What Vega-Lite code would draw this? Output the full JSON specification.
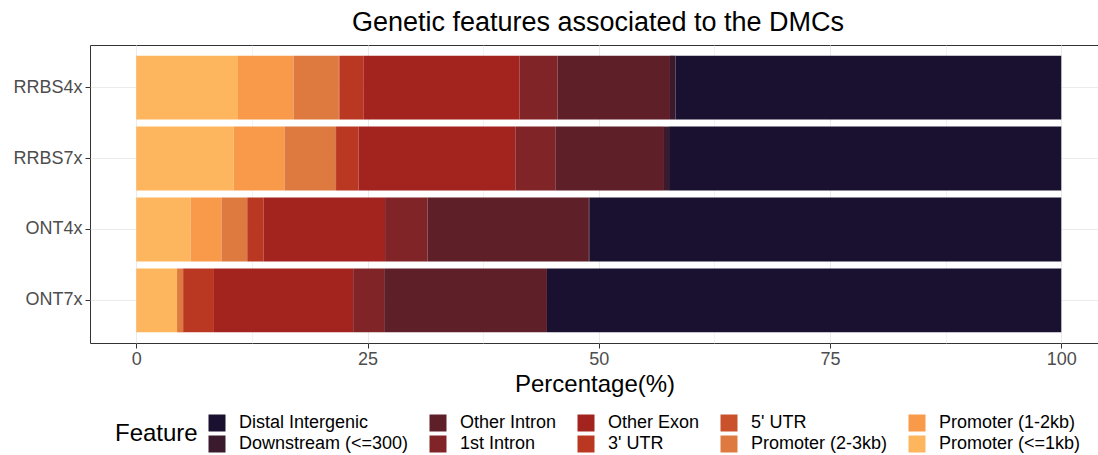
{
  "$schema": "https://vega.github.io/schema/vega-lite/v6.json",
  "width": 1009,
  "height": 298,
  "autosize": {"type": "none"},
  "padding": {"left": 90, "top": 45, "right": 0, "bottom": 112},
  "background": "white",
  "title": {
    "text": "Genetic features associated to the DMCs",
    "fontSize": 27,
    "font": "Liberation Sans",
    "fontWeight": "normal",
    "color": "black",
    "anchor": "middle",
    "dx": 3.5,
    "offset": 8
  },
  "config": {
    "font": "Liberation Sans",
    "view": {"stroke": "#333333", "strokeWidth": 1}
  },
  "data": {
    "values": [
      {"Sample": "RRBS4x", "Feature": "Promoter (<=1kb)", "Percentage": 11.0, "rank": 1},
      {"Sample": "RRBS4x", "Feature": "Promoter (1-2kb)", "Percentage": 6.0, "rank": 2},
      {"Sample": "RRBS4x", "Feature": "Promoter (2-3kb)", "Percentage": 4.9, "rank": 3},
      {"Sample": "RRBS4x", "Feature": "5' UTR", "Percentage": 0.1, "rank": 4},
      {"Sample": "RRBS4x", "Feature": "3' UTR", "Percentage": 2.6, "rank": 5},
      {"Sample": "RRBS4x", "Feature": "Other Exon", "Percentage": 16.85, "rank": 6},
      {"Sample": "RRBS4x", "Feature": "1st Intron", "Percentage": 4.1, "rank": 7},
      {"Sample": "RRBS4x", "Feature": "Other Intron", "Percentage": 12.15, "rank": 8},
      {"Sample": "RRBS4x", "Feature": "Downstream (<=300)", "Percentage": 0.6, "rank": 9},
      {"Sample": "RRBS4x", "Feature": "Distal Intergenic", "Percentage": 41.7, "rank": 10},
      {"Sample": "RRBS7x", "Feature": "Promoter (<=1kb)", "Percentage": 10.53, "rank": 1},
      {"Sample": "RRBS7x", "Feature": "Promoter (1-2kb)", "Percentage": 5.49, "rank": 2},
      {"Sample": "RRBS7x", "Feature": "Promoter (2-3kb)", "Percentage": 5.5, "rank": 3},
      {"Sample": "RRBS7x", "Feature": "5' UTR", "Percentage": 0.08, "rank": 4},
      {"Sample": "RRBS7x", "Feature": "3' UTR", "Percentage": 2.43, "rank": 5},
      {"Sample": "RRBS7x", "Feature": "Other Exon", "Percentage": 16.95, "rank": 6},
      {"Sample": "RRBS7x", "Feature": "1st Intron", "Percentage": 4.32, "rank": 7},
      {"Sample": "RRBS7x", "Feature": "Other Intron", "Percentage": 11.75, "rank": 8},
      {"Sample": "RRBS7x", "Feature": "Downstream (<=300)", "Percentage": 0.55, "rank": 9},
      {"Sample": "RRBS7x", "Feature": "Distal Intergenic", "Percentage": 42.4, "rank": 10},
      {"Sample": "ONT4x", "Feature": "Promoter (<=1kb)", "Percentage": 5.88, "rank": 1},
      {"Sample": "ONT4x", "Feature": "Promoter (1-2kb)", "Percentage": 3.33, "rank": 2},
      {"Sample": "ONT4x", "Feature": "Promoter (2-3kb)", "Percentage": 2.79, "rank": 3},
      {"Sample": "ONT4x", "Feature": "3' UTR", "Percentage": 1.78, "rank": 5},
      {"Sample": "ONT4x", "Feature": "Other Exon", "Percentage": 13.12, "rank": 6},
      {"Sample": "ONT4x", "Feature": "1st Intron", "Percentage": 4.6, "rank": 7},
      {"Sample": "ONT4x", "Feature": "Other Intron", "Percentage": 17.43, "rank": 8},
      {"Sample": "ONT4x", "Feature": "Downstream (<=300)", "Percentage": 0.1, "rank": 9},
      {"Sample": "ONT4x", "Feature": "Distal Intergenic", "Percentage": 50.97, "rank": 10},
      {"Sample": "ONT7x", "Feature": "Promoter (<=1kb)", "Percentage": 4.41, "rank": 1},
      {"Sample": "ONT7x", "Feature": "Promoter (2-3kb)", "Percentage": 0.66, "rank": 3},
      {"Sample": "ONT7x", "Feature": "3' UTR", "Percentage": 3.33, "rank": 5},
      {"Sample": "ONT7x", "Feature": "Other Exon", "Percentage": 15.05, "rank": 6},
      {"Sample": "ONT7x", "Feature": "1st Intron", "Percentage": 3.35, "rank": 7},
      {"Sample": "ONT7x", "Feature": "Other Intron", "Percentage": 17.6, "rank": 8},
      {"Sample": "ONT7x", "Feature": "Distal Intergenic", "Percentage": 55.6, "rank": 10}
    ]
  },
  "mark": {"type": "bar"},
  "encoding": {
    "y": {
      "field": "Sample",
      "type": "nominal",
      "sort": ["RRBS4x", "RRBS7x", "ONT4x", "ONT7x"],
      "scale": {"paddingInner": 0.1, "paddingOuter": 0.15},
      "axis": {
        "title": null,
        "domain": false,
        "labelFontSize": 18,
        "labelColor": "#4d4d4d",
        "labelPadding": 3,
        "tickSize": 5,
        "tickColor": "#333333",
        "grid": true,
        "gridColor": "#ebebeb",
        "gridWidth": 1.1,
        "bandPosition": 0.5
      }
    },
    "x": {
      "field": "Percentage",
      "type": "quantitative",
      "stack": "zero",
      "scale": {"domain": [-5, 104.08], "nice": false, "zero": false},
      "axis": {
        "title": "Percentage(%)",
        "titleFontSize": 24,
        "titleFontWeight": "normal",
        "titleColor": "black",
        "titlePadding": 4,
        "domain": false,
        "values": [0, 12.5, 25, 37.5, 50, 62.5, 75, 87.5, 100],
        "labelExpr": "datum.value % 25 === 0 ? datum.label : ''",
        "labelFontSize": 18,
        "labelColor": "#4d4d4d",
        "labelPadding": 2,
        "tickSize": 5,
        "tickColor": "#333333",
        "tickOpacity": {"condition": {"test": "datum.value % 25 !== 0", "value": 0}, "value": 1},
        "grid": true,
        "gridColor": "#ebebeb",
        "gridWidth": {"condition": {"test": "datum.value % 25 !== 0", "value": 0.6}, "value": 1.1}
      }
    },
    "color": {
      "field": "Feature",
      "type": "nominal",
      "scale": {
        "domain": ["Distal Intergenic", "Other Intron", "Other Exon", "5' UTR", "Promoter (1-2kb)", "Downstream (<=300)", "1st Intron", "3' UTR", "Promoter (2-3kb)", "Promoter (<=1kb)"],
        "range": ["#1a1131", "#5f1f28", "#a3231f", "#c9512b", "#f99a4a", "#3b1a2d", "#812427", "#ba3821", "#de7a3f", "#fdb65d"]
      },
      "legend": {
        "title": "Feature",
        "orient": "none",
        "legendX": 25,
        "legendY": 369,
        "direction": "horizontal",
        "columns": 5,
        "titleOrient": "left",
        "titleFontSize": 24,
        "titleFontWeight": "normal",
        "titleColor": "black",
        "titlePadding": 10,
        "titleBaseline": "middle",
        "titleAnchor": "middle",
        "symbolType": "square",
        "symbolSize": 289,
        "symbolStrokeWidth": 0,
        "symbolOpacity": 1,
        "labelFontSize": 18,
        "labelColor": "black",
        "labelOffset": 13,
        "labelLimit": 300,
        "columnPadding": 20,
        "rowPadding": 3
      }
    },
    "order": {"field": "rank", "type": "quantitative", "sort": "ascending"}
  }
}
